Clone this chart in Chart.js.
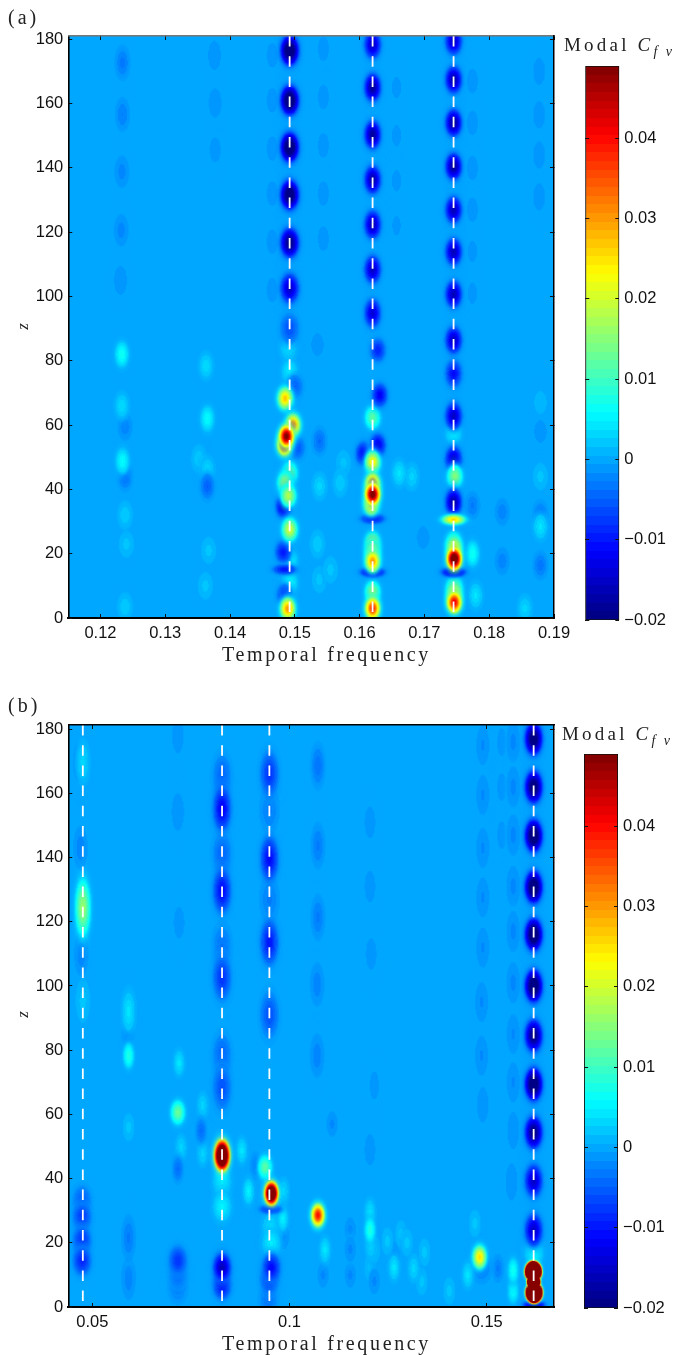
<!DOCTYPE html>
<html>
<head>
<meta charset="utf-8">
<script src="https://cdn.jsdelivr.net/npm/chart.js@4"></script>
<style>
  html, body { margin: 0; padding: 0; background: #fff; width: 675px; height: 1355px; overflow: hidden; }
  canvas { position: absolute; }
  .cap { position: absolute; font-family: "Liberation Serif", serif; color: #222; white-space: nowrap; line-height: 1; }
  .xlabel { font-size: 20px; letter-spacing: 2.65px; }
  .tag { font-size: 20px; letter-spacing: 3px; }
  .modal { font-size: 19px; letter-spacing: 3.2px; }
  .modal i sub { font-size: 14px; letter-spacing: 8.5px; line-height: 0; }
  .zlabel { font-size: 17px; font-style: italic; transform: rotate(-90deg); }
</style>
</head>
<body>
<canvas id="panel-a" width="594" height="662" style="left:0;top:-4px"></canvas>
<canvas id="bar-a" width="105" height="593" style="left:570px;top:47px"></canvas>
<canvas id="panel-b" width="594" height="662" style="left:0;top:685px"></canvas>
<canvas id="bar-b" width="105" height="593" style="left:570px;top:735px"></canvas>

<div class="cap tag" style="left:8px;top:7px">(a)</div>
<div class="cap modal" style="left:564px;top:35px">Modal <i>C<sub>fv</sub></i></div>
<div class="cap xlabel" style="left:222px;top:644px">Temporal frequency</div>
<div class="cap zlabel" style="left:19px;top:318px">z</div>

<div class="cap tag" style="left:8px;top:695px">(b)</div>
<div class="cap modal" style="left:562px;top:724px">Modal <i>C<sub>fv</sub></i></div>
<div class="cap xlabel" style="left:222px;top:1333px">Temporal frequency</div>
<div class="cap zlabel" style="left:19px;top:1006px">z</div>

<script>
// tick labels
const aFreqTicks = [0.12, 0.13, 0.14, 0.15, 0.16, 0.17, 0.18, 0.19]
const bFreqTicks = [0.05, 0.1, 0.15]
const zTicks = [0, 20, 40, 60, 80, 100, 120, 140, 160, 180]
const colorTicks = [-0.02, -0.01, 0, 0.01, 0.02, 0.03, 0.04]
const colorRange = [-0.02, 0.049]

// white dashed lines
const aDashFreqs = [0.1492, 0.1620, 0.1745]
const bDashFreqs = [0.0476, 0.0829, 0.0949, 0.1619]

// panel (a): periodic dark spots along the three forced frequencies
const a149Z = [176.5, 161, 146.4, 131.6, 116.7, 102.5, 90]
const a149V = [-0.024, -0.024, -0.024, -0.023, -0.02, -0.015, -0.006]
const a162Z = [178.3, 165, 150.3, 136.3, 122.3, 108.4, 94.8]
const a162V = [-0.015, -0.018, -0.018, -0.017, -0.016, -0.015, -0.014]
const a1745Z = [179.4, 167.4, 154, 140.4, 126.9, 113.9, 100.7, 86.4, 76, 62.8, 49.2, 36]
const a1745V = [-0.015, -0.017, -0.018, -0.018, -0.016, -0.016, -0.016, -0.015, -0.011, -0.015, -0.015, -0.017]

// panel (a): strong spots below z = 90
const aHotF = [0.1485, 0.1497, 0.1487, 0.1484, 0.1492, 0.1485, 0.149, 0.1492, 0.1489, 0.162, 0.162, 0.162, 0.1618, 0.162, 0.162, 0.162, 0.162, 0.1747, 0.1745, 0.1746, 0.1746, 0.1746, 0.1492, 0.1492, 0.1492, 0.149, 0.1745, 0.1483, 0.1482, 0.1484, 0.15, 0.1503, 0.1628, 0.1606, 0.1628, 0.1631, 0.162, 0.1746, 0.1746, 0.162]
const aHotZ = [68.3, 60, 56.5, 54, 45, 42, 38, 27.5, 2.9, 62.3, 48.4, 38.5, 35.5, 23, 17.7, 3, 8, 44, 23, 18.4, 4.9, 9.6, 17.7, 11, 76.5, 83.8, 57.6, 34.8, 20.5, 7, 72, 53, 53.7, 51.1, 83.3, 69.3, 41.5, 21.5, 7.5, 20.5]
const aHotV = [0.027, 0.033, 0.05, 0.045, 0.014, 0.017, 0.018, 0.02, 0.03, 0.012, 0.024, 0.052, 0.03, 0.022, 0.03, 0.038, 0.016, 0.015, 0.018, 0.058, 0.042, 0.018, 0.006, 0.006, 0.005, 0.004, 0.006, -0.016, -0.01, -0.008, -0.005, -0.006, -0.013, -0.012, -0.009, -0.012, 0.04, 0.03, 0.03, 0.022]

// panel (a): thin horizontal bands
const aBandF = [0.1745, 0.162, 0.162, 0.1745, 0.1484]
const aBandZ = [30.6, 30.9, 14.3, 14.3, 15.1]
const aBandV = [0.026, -0.012, -0.017, -0.018, -0.01]

// panel (a): faint side columns in the upper half
const aFaintF = [0.1234, 0.1234, 0.1233, 0.1232, 0.1231, 0.1376, 0.1377, 0.1377, 0.1465, 0.1465, 0.1465, 0.1465, 0.1465, 0.1465, 0.1544, 0.1544, 0.1544, 0.1544, 0.1544, 0.1657, 0.1657, 0.1657, 0.1657, 0.1774, 0.1774, 0.1774, 0.1774, 0.1774, 0.1774, 0.1877, 0.1877, 0.1877, 0.1877]
const aFaintZ = [172.7, 156.6, 138.8, 120.6, 105, 175, 160.2, 145.6, 175, 161, 146, 132, 117, 102, 177, 162, 147, 132, 118, 165, 150, 136, 122, 167, 154, 140, 127, 114, 101, 170, 156.5, 144, 131]
const aFaintV = [-0.0032, -0.0028, -0.0022, -0.0022, -0.0016, -0.0016, -0.0016, -0.0012, -0.0012, -0.0012, -0.0012, -0.0012, -0.0012, -0.0012, -0.0012, -0.0012, -0.0012, -0.0012, -0.0012, -0.001, -0.001, -0.001, -0.0009, -0.0012, -0.0012, -0.0012, -0.0012, -0.001, -0.001, -0.0014, -0.0014, -0.0014, -0.0014]

// panel (a): small fringe spots in the lower half
const aSpotF = [0.1233, 0.1233, 0.1238, 0.1234, 0.1238, 0.1238, 0.124, 0.1238, 0.1363, 0.1365, 0.1352, 0.1365, 0.1365, 0.1367, 0.1362, 0.1538, 0.1535, 0.1538, 0.1535, 0.1538, 0.1661, 0.168, 0.1774, 0.1774, 0.182, 0.1779, 0.182, 0.1879, 0.1879, 0.1879, 0.1879, 0.1879, 0.1879, 0.157, 0.1575, 0.1555, 0.1698, 0.1855]
const aSpotZ = [82, 66, 59.5, 48.8, 44, 32, 23, 3.5, 78.4, 62, 49.5, 46, 41, 21, 10, 55, 85, 41, 23, 12, 45, 44, 35, 20, 33, 7, 17.7, 32, 28.4, 16.4, 44, 58, 67, 42, 48, 15, 25, 3]
const aSpotV = [0.007, 0.0035, -0.0025, 0.006, -0.004, 0.0025, 0.002, 0.0025, 0.0035, 0.006, 0.0025, 0.0035, -0.005, 0.002, 0.002, -0.004, -0.0015, 0.003, 0.0025, 0.002, 0.004, 0.003, -0.003, 0.007, -0.0025, 0.004, -0.0025, -0.004, 0.004, -0.0035, 0.002, -0.0015, 0.0012, 0.0025, 0.002, 0.002, -0.0015, 0.003]

// panel (b): periodic dark spots
const b162Z = [177, 162, 146.8, 130.8, 116, 100, 84.5, 69.4, 54.4, 39.3, 23.9]
const b162V = [-0.022, -0.022, -0.024, -0.024, -0.024, -0.024, -0.02, -0.024, -0.02, -0.015, -0.015]
const b083Z = [155.2, 129.7, 141, 102.6, 165, 78, 68.4, 112]
const b083V = [-0.012, -0.011, -0.005, -0.008, -0.005, -0.005, -0.006, -0.004]
const b095Z = [166, 139.6, 113.6, 91, 155, 127]
const b095V = [-0.008, -0.011, -0.01, -0.006, -0.003, -0.003]

// panel (b): strong spots
const bHotF = [0.0954, 0.1072, 0.1482, 0.0717, 0.0938]
const bHotZ = [35.4, 28.6, 15.5, 60.6, 43.5]
const bHotV = [0.07, 0.04, 0.025, 0.013, 0.012]

// panel (b): the tall spot at z = 124
const bTallF = [0.0476]
const bTallZ = [124.4]
const bTallV = [0.016]

// panel (b): the big spot at z = 47
const bPeakF = [0.0829]
const bPeakZ = [47.2]
const bPeakV = [0.08]

// panel (b): the saturated spot at the bottom right, clipped at the top colour
const bSatF = [0.1618, 0.162]
const bSatZ = [11, 4.5]
const bSatV = [0.6, 0.6]
const bWaistF = [0.1619]
const bWaistZ = [7.8]
const bWaistV = [0.7]
// same spot again, values from 1 up paint only the clipped part
const bCapF = [0.1618, 0.162]
const bCapZ = [11, 4.5]
const bCapV = [1.2, 1.2]
const bWaistCapF = [0.1619]
const bWaistCapZ = [7.8]
const bWaistCapV = [1.2]

// panel (b): dark spots below z = 40
const bLowF = [0.0829, 0.0829, 0.0954, 0.0949, 0.0947, 0.0717, 0.0717, 0.0717, 0.0474, 0.0474, 0.0474, 0.0474, 0.0829, 0.0829, 0.0954, 0.0954, 0.162, 0.1487]
const bLowZ = [12.3, 7, 12.2, 8.6, 2.5, 14.4, 10, 6, 27.9, 20.5, 14.4, 33, 39, 31.3, 25, 19.7, 17, 12.7]
const bLowV = [-0.016, -0.012, -0.011, -0.009, -0.004, -0.008, -0.005, -0.0035, -0.008, -0.009, -0.009, -0.006, 0.005, 0.005, 0.004, 0.005, 0.006, -0.004]

// panel (b): thin horizontal bands
const bBandF = [0.0952, 0.162]
const bBandZ = [30.5, 0.6]
const bBandV = [-0.01, -0.017]

// panel (b): faint columns
const bFaintF = [0.0476, 0.0468, 0.047, 0.0472, 0.0476, 0.1072, 0.1072, 0.1072, 0.107, 0.107, 0.0717, 0.0717, 0.072, 0.0592, 0.0592, 0.0592, 0.1567, 0.1567, 0.1567, 0.1567, 0.1567, 0.1567, 0.1567, 0.1567, 0.1567, 0.1563, 0.149, 0.149, 0.149, 0.149, 0.149, 0.1487, 0.1487, 0.149, 0.1538, 0.1538, 0.1538, 0.1204, 0.1204, 0.1207, 0.1215, 0.1204]
const bFaintZ = [169.7, 169.7, 143, 110, 95.5, 168.6, 143.7, 121.4, 100.5, 78.3, 178, 154.2, 119.7, 92, 21.5, 9, 176, 162, 147, 131, 117, 101, 85, 70, 55, 39, 175, 159.5, 143, 127.6, 112, 95, 78.3, 63, 176, 162, 147, 151, 131, 110, 69, 49]
const bFaintV = [0.003, -0.002, -0.0025, -0.0025, 0.002, -0.0036, -0.003, -0.003, -0.0025, -0.0025, -0.0014, -0.0016, -0.0012, 0.004, -0.003, -0.0025, -0.002, -0.002, -0.002, -0.002, -0.002, -0.002, -0.0018, -0.0018, -0.0015, -0.0015, -0.0018, -0.0018, -0.0018, -0.0018, -0.0018, -0.0018, -0.0018, -0.0014, -0.001, -0.001, -0.001, -0.0012, -0.0012, -0.0012, -0.001, -0.0012]

// panel (b): small fringe spots
const bSpotF = [0.0592, 0.059, 0.0592, 0.072, 0.0725, 0.0717, 0.078, 0.0776, 0.0879, 0.0896, 0.078, 0.0915, 0.0983, 0.0985, 0.0985, 0.109, 0.1085, 0.1108, 0.1204, 0.1204, 0.1206, 0.1265, 0.1248, 0.1283, 0.1265, 0.1315, 0.1335, 0.1452, 0.1567, 0.1567, 0.1528, 0.1154, 0.1154, 0.1204, 0.1215, 0.1215, 0.1298, 0.1342, 0.1154, 0.1405, 0.147]
const bSpotZ = [78.3, 85, 56, 76, 49.6, 43, 62.7, 54.9, 48.7, 36, 48, 44, 27.7, 36, 22, 17.8, 10, 57, 29.5, 24, 19, 16.4, 20.5, 22.7, 12.3, 12, 8, 10, 11.3, 5, 12, 10, 24, 12.5, 8, 18, 20, 17, 18, 5, 26]
const bSpotV = [0.008, -0.003, 0.002, 0.004, 0.003, -0.004, 0.003, -0.004, 0.004, 0.005, 0.003, -0.003, 0.005, 0.003, -0.002, 0.004, -0.002, -0.002, 0.004, 0.008, 0.003, -0.002, 0.002, 0.002, 0.004, 0.003, 0.002, 0.004, 0.007, 0.006, -0.003, -0.002, -0.002, 0.002, -0.002, 0.002, 0.002, 0.002, -0.002, 0.002, 0.002]

// jet colormap, 64 levels like the original colorbar
function jet(i) {
  const t = (i + 0.5) / 64
  const c = v => Math.round(255 * Math.max(0, Math.min(1, v)))
  return [c(Math.min(4 * t - 1.5, 4.5 - 4 * t)), c(Math.min(4 * t - 0.5, 3.5 - 4 * t)), c(Math.min(4 * t + 0.5, 2.5 - 4 * t))]
}
function level(v) {
  const i = Math.floor((v - colorRange[0]) / (colorRange[1] - colorRange[0]) * 64)
  return Math.max(0, Math.min(63, i))
}
const zeroColor = 'rgb(' + jet(level(0)).join(',') + ')'

// one soft elliptical spot as a point image
const spotCache = {}
function spotImage(v, sx, sy) {
  const key = [v, sx.toFixed(2), sy.toFixed(2)].join('|')
  if (spotCache[key]) return spotCache[key]
  const rx = Math.ceil(4 * sx), ry = Math.ceil(4 * sy)
  const cv = document.createElement('canvas')
  cv.width = 2 * rx + 1
  cv.height = 2 * ry + 1
  const c = cv.getContext('2d')
  const img = c.createImageData(cv.width, cv.height)
  for (let j = -ry; j <= ry; j++) {
    for (let i = -rx; i <= rx; i++) {
      const g = Math.exp(-(i * i / (2 * sx * sx) + j * j / (2 * sy * sy)))
      const val = v * g
      const col = jet(level(val))
      const p = 4 * ((j + ry) * cv.width + i + rx)
      img.data[p] = col[0]
      img.data[p + 1] = col[1]
      img.data[p + 2] = col[2]
      img.data[p + 3] = Math.min(255, 255 * Math.max(g * 2.5, Math.abs(val) / 0.03))
      if (v >= 1 && val < colorRange[1]) img.data[p + 3] = 0
    }
  }
  c.putImageData(img, 0, 0)
  spotCache[key] = cv
  return cv
}

// groups are [freq or freqs, zs, values, spread in f, spread in z]
function buildSpots(groups) {
  const pts = []
  groups.forEach(([f, zs, vs, sf, sz]) => {
    zs.forEach((z, i) => pts.push({ x: Array.isArray(f) ? f[i] : f, y: z, v: vs[i], sf, sz }))
  })
  return pts.sort((p, q) => Math.abs(p.v) - Math.abs(q.v))
}

const aGroups = [
  [0.1492, a149Z, a149V, 0.00095, 3.1],
  [0.162, a162Z, a162V, 0.00085, 2.9],
  [0.1745, a1745Z, a1745V, 0.00085, 2.8],
  [aHotF, aHotZ, aHotV, 0.0008, 2.4],
  [aBandF, aBandZ, aBandV, 0.0012, 1.1],
  [aFaintF, aFaintZ, aFaintV, 0.0007, 3.2],
  [aSpotF, aSpotZ, aSpotV, 0.0007, 2.6],
]
const bGroups = [
  [0.1619, b162Z, b162V, 0.0015, 3.4],
  [0.0829, b083Z, b083V, 0.0015, 4.6],
  [0.0949, b095Z, b095V, 0.0015, 4.6],
  [bHotF, bHotZ, bHotV, 0.0012, 2.5],
  [bTallF, bTallZ, bTallV, 0.0013, 6],
  [bPeakF, bPeakZ, bPeakV, 0.0013, 3.2],
  [bSatF, bSatZ, bSatV, 0.0009, 1.4],
  [bWaistF, bWaistZ, bWaistV, 0.0007, 0.9],
  [bCapF, bCapZ, bCapV, 0.0008, 1.25],
  [bWaistCapF, bWaistCapZ, bWaistCapV, 0.00062, 0.8],
  [bLowF, bLowZ, bLowV, 0.0015, 3],
  [bBandF, bBandZ, bBandV, 0.0018, 1],
  [bFaintF, bFaintZ, bFaintV, 0.0011, 4.2],
  [bSpotF, bSpotZ, bSpotV, 0.0009, 2.6],
]

const plotWidth = 486
const plotHeight = 581

const tickFont = { family: '"Liberation Sans", Arial, sans-serif', size: 16.5 }
const fixTicks = vals => scale => { scale.ticks = vals.map(value => ({ value })) }
const fixHeight = h => scale => { scale.height = h }
const fixWidth = w => scale => { scale.width = w }
const fmt = v => String(v).replace('-', '\u2212')

function sideAxis(position, range, ticks, color) {
  const horiz = position === 'top' || position === 'bottom'
  return {
    type: 'linear', position, min: range[0], max: range[1],
    afterBuildTicks: fixTicks(ticks),
    afterFit: horiz ? fixHeight(0) : fixWidth(0),
    ticks: { display: false },
    grid: { drawOnChartArea: false, tickLength: -4, tickColor: '#111', tickWidth: 1, z: 2 },
    border: { color: color || '#000', width: 1.5, z: 2 },
  }
}

function drawPanel(id, groups, dashFreqs, xRange, xTicks, yMax, topColor) {
  const yRange = [0, yMax]
  const pxF = plotWidth / (xRange[1] - xRange[0])
  const pxZ = plotHeight / yMax
  const dashes = dashFreqs.map(f => ({
    type: 'scatter', showLine: true, order: 0, clip: 0,
    data: [{ x: f, y: yMax }, { x: f, y: 0 }],
    borderColor: '#fff', borderWidth: 1.8, borderDash: [10.5, 9.7], pointRadius: 0,
  }))
  new Chart(document.getElementById(id), {
    type: 'scatter',
    data: {
      datasets: dashes.concat([{
        order: 1, clip: 0,
        data: buildSpots(groups),
        pointRadius: 40,
        pointBorderWidth: 0,
        pointStyle: ctx => {
          if (!ctx.raw) return 'circle'
          return spotImage(ctx.raw.v, ctx.raw.sf * pxF, ctx.raw.sz * pxZ)
        },
      }]),
    },
    options: {
      responsive: false, animation: false, events: [],
      layout: { padding: { top: 16, right: 30.7, bottom: 0, left: 0 } },
      plugins: { legend: { display: false }, tooltip: { enabled: false } },
      scales: {
        x: {
          type: 'linear', min: xRange[0], max: xRange[1],
          afterBuildTicks: fixTicks(xTicks),
          afterFit: fixHeight(32),
          ticks: { font: tickFont, color: '#111', padding: 10, maxRotation: 0, autoSkip: false, callback: fmt },
          grid: { drawOnChartArea: false, tickLength: -4, tickColor: '#111', tickWidth: 1, z: 2 },
          border: { color: '#000', width: 2, z: 2 },
        },
        y: {
          type: 'linear', min: 0, max: yMax,
          afterBuildTicks: fixTicks(zTicks),
          afterFit: fixWidth(68.3),
          ticks: { font: tickFont, color: '#111', padding: 9, autoSkip: false, callback: fmt },
          grid: { drawOnChartArea: false, tickLength: -4, tickColor: '#111', tickWidth: 1, z: 2 },
          border: { color: '#000', width: 1.6, z: 2 },
        },
        x2: sideAxis('top', xRange, xTicks, topColor),
        y2: sideAxis('right', yRange, zTicks),
      },
    },
    plugins: [{
      id: 'zeroBackground',
      beforeDatasetsDraw(chart) {
        const a = chart.chartArea
        chart.ctx.save()
        chart.ctx.fillStyle = zeroColor
        chart.ctx.fillRect(a.left, a.top, a.right - a.left, a.bottom - a.top)
        chart.ctx.restore()
      },
    }],
  })
}

function drawColorbar(id, paddingLeft, barRightSpace, paddingTop, paddingBottom) {
  new Chart(document.getElementById(id), {
    type: 'bar',
    data: {
      labels: ['Modal Cfv'],
      datasets: [{
        data: [colorRange],
        barPercentage: 1, categoryPercentage: 1,
        borderColor: '#111', borderWidth: 1.2, borderSkipped: false,
        backgroundColor: ctx => {
          const a = ctx.chart.chartArea
          if (!a) return zeroColor
          const grad = ctx.chart.ctx.createLinearGradient(0, a.bottom, 0, a.top)
          for (let i = 0; i < 64; i++) {
            const col = 'rgb(' + jet(i).join(',') + ')'
            grad.addColorStop(i / 64, col)
            grad.addColorStop((i + 1) / 64, col)
          }
          return grad
        },
      }],
    },
    options: {
      responsive: false, animation: false, events: [],
      layout: { padding: { top: paddingTop, right: 0, bottom: paddingBottom, left: paddingLeft } },
      plugins: { legend: { display: false }, tooltip: { enabled: false } },
      scales: {
        x: { display: false },
        y: {
          type: 'linear', position: 'right', min: colorRange[0], max: colorRange[1],
          afterBuildTicks: fixTicks(colorTicks),
          afterFit: fixWidth(barRightSpace),
          ticks: { font: tickFont, color: '#111', padding: 9, autoSkip: false, callback: fmt },
          grid: { drawOnChartArea: false, tickLength: -4, tickColor: '#111', tickWidth: 1, z: 2 },
          border: { display: false },
        },
        y2: Object.assign(sideAxis('left', colorRange, colorTicks), { border: { display: false } }),
      },
    },
  })
}

drawPanel('panel-a', aGroups, aDashFreqs, [0.11504, 0.19], aFreqTicks, 181, '#777')
drawPanel('panel-b', bGroups, bDashFreqs, [0.04392, 0.16706], bFreqTicks, 181.3, '#000')
drawColorbar('bar-a', 15.3, 55.7, 6, 20)
drawColorbar('bar-b', 14, 57, 6.3, 20)
</script>
</body>
</html>
